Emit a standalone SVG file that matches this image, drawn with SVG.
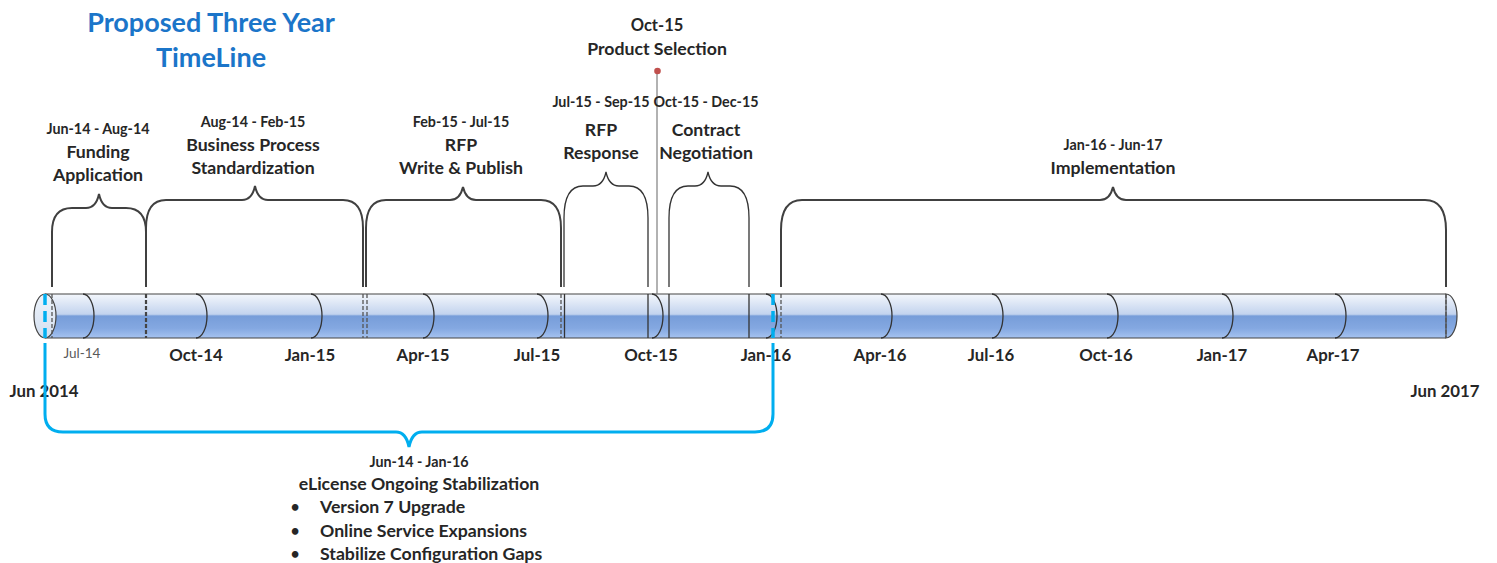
<svg xmlns="http://www.w3.org/2000/svg" width="1497" height="563" viewBox="0 0 1497 563">
<defs>
<linearGradient id="body" x1="0" y1="0" x2="0" y2="1">
<stop offset="0" stop-color="#f4f7fc"/>
<stop offset="0.46" stop-color="#c2d3ee"/>
<stop offset="0.5" stop-color="#779dd9"/>
<stop offset="0.78" stop-color="#84a8e1"/>
<stop offset="1" stop-color="#a6c3f0"/>
</linearGradient>
<linearGradient id="cap" x1="0" y1="0" x2="0" y2="1">
<stop offset="0" stop-color="#eef3fa"/>
<stop offset="1" stop-color="#d3dff0"/>
</linearGradient>
<style>
text{font-family:Lato,"Liberation Sans",sans-serif;font-weight:bold;fill:#262626;text-anchor:middle}
.title{font-size:27px;fill:#1b75c9}
.lbl{font-size:17.7px}
.dt{font-size:14.3px}
.ax{font-size:16.8px}
.axs{font-size:13.5px;font-weight:normal;fill:#595959}
.bl{text-anchor:start;font-size:17.7px}
.bul{font-size:15px}
.brace{fill:none;stroke:#404040;stroke-width:2}
.brace.thin{stroke-width:1.3;stroke:#333}
.arc{fill:none;stroke:#333;stroke-width:1.3}
.dash{stroke:#555;stroke-width:1.3;stroke-dasharray:4 2}
.solid{stroke:#333;stroke-width:1.3}
.blue{fill:none;stroke:#00aeef;stroke-width:3}
.bluedash{stroke:#00aeef;stroke-width:3.5;stroke-dasharray:11 6}
</style>
</defs>

<g id="title">
<text class="title" x="211" y="32">Proposed Three Year</text>
<text class="title" x="211" y="67">TimeLine</text>
</g>

<g id="timeline-bar">
<rect x="45" y="294" width="1401" height="44" fill="url(#body)"/>
<line x1="45" y1="294" x2="1446" y2="294" stroke="#444" stroke-width="1.2"/>
<line x1="45" y1="338" x2="1446" y2="338" stroke="#444" stroke-width="1.2"/>
<path d="M1446,294 A11,22 0 0 1 1446,338 Z" fill="url(#body)" stroke="#444" stroke-width="1.2"/>
<ellipse cx="45" cy="316" rx="11" ry="22" fill="url(#cap)" stroke="#444" stroke-width="1.2"/>
<path class="arc" d="M83,294 A11,22 0 0 1 83,338"/>
<path class="arc" d="M196,294 A11,22 0 0 1 196,338"/>
<path class="arc" d="M311,294 A11,22 0 0 1 311,338"/>
<path class="arc" d="M423,294 A11,22 0 0 1 423,338"/>
<path class="arc" d="M537,294 A11,22 0 0 1 537,338"/>
<path class="arc" d="M652,294 A11,22 0 0 1 652,338"/>
<path class="arc" d="M766,294 A11,22 0 0 1 766,338"/>
<path class="arc" d="M881,294 A11,22 0 0 1 881,338"/>
<path class="arc" d="M992,294 A11,22 0 0 1 992,338"/>
<path class="arc" d="M1107,294 A11,22 0 0 1 1107,338"/>
<path class="arc" d="M1222,294 A11,22 0 0 1 1222,338"/>
<path class="arc" d="M1335,294 A11,22 0 0 1 1335,338"/>
<line class="dash" x1="52" y1="294" x2="52" y2="338"/>
<line class="dash" x1="146" y1="294" x2="146" y2="338" style="stroke-width:2.2;stroke:#444"/>
<line class="dash" x1="363" y1="294" x2="363" y2="338"/>
<line class="dash" x1="367" y1="294" x2="367" y2="338"/>
<line class="dash" x1="561" y1="294" x2="561" y2="338"/>
<line class="solid" x1="564.5" y1="294" x2="564.5" y2="338"/>
<line class="solid" x1="648" y1="294" x2="648" y2="338"/>
<line class="solid" x1="669" y1="294" x2="669" y2="338"/>
<line class="solid" x1="749" y1="294" x2="749" y2="338"/>
<line class="dash" x1="781" y1="294" x2="781" y2="338"/>
<line class="dash" x1="1446" y1="294" x2="1446" y2="338"/>
<line class="bluedash" x1="45" y1="294" x2="45" y2="338"/>
<line class="bluedash" x1="773" y1="294" x2="773" y2="338"/>
</g>

<g id="axis-labels">
<text class="axs" x="82" y="358">Jul-14</text>
<text class="ax" x="196" y="361">Oct-14</text>
<text class="ax" x="310" y="361">Jan-15</text>
<text class="ax" x="423" y="361">Apr-15</text>
<text class="ax" x="537" y="361">Jul-15</text>
<text class="ax" x="651" y="361">Oct-15</text>
<text class="ax" x="766" y="361">Jan-16</text>
<text class="ax" x="880" y="361">Apr-16</text>
<text class="ax" x="991" y="361">Jul-16</text>
<text class="ax" x="1106" y="361">Oct-16</text>
<text class="ax" x="1222" y="361">Jan-17</text>
<text class="ax" x="1333" y="361">Apr-17</text>
<text class="ax" x="44" y="397">Jun 2014</text>
<text class="ax" x="1445" y="397">Jun 2017</text>
</g>

<g id="connectors">
<path class="brace" d="M52,287 V232 Q52,208 72,208 H86 Q96,208 99,194 Q102,208 112,208 H126 Q146,208 146,232 V287"/>
<path class="brace" d="M146,287 V228 Q146,200 166,200 H242 Q252,200 255,186 Q258,200 268,200 H343 Q363,200 363,228 V287"/>
<path class="brace" d="M366,287 V228 Q366,200 386,200 H450 Q460,200 463,187 Q466,200 476,200 H541 Q561,200 561,228 V287"/>
<path class="brace thin" d="M564,287 V218 Q564,186 583,186 H593 Q603,186 606,172 Q609,186 619,186 H629 Q648,186 648,218 V287"/>
<path class="brace thin" d="M669,287 V218 Q669,186 688,186 H695 Q705,186 708,172 Q711,186 721,186 H730 Q749,186 749,218 V287"/>
<path class="brace" d="M781,287 V230 Q781,200 802,200 H1100 Q1110,200 1113,187 Q1116,200 1126,200 H1425 Q1446,200 1446,230 V287"/>
<path class="blue" d="M45,343 V414 Q45,432 63,432 H396 Q406,432 409,447 Q412,432 422,432 H755 Q773,432 773,414 V343"/>
<line x1="657" y1="71" x2="657" y2="294" stroke="#7f7f7f" stroke-width="1.2"/>
</g>

<g id="node-funding">
<text class="dt" x="98" y="134">Jun-14 - Aug-14</text>
<text class="lbl" x="98" y="158">Funding</text>
<text class="lbl" x="98" y="181">Application</text>
</g>
<g id="node-business">
<text class="dt" x="253" y="127">Aug-14 - Feb-15</text>
<text class="lbl" x="253" y="151">Business Process</text>
<text class="lbl" x="253" y="174">Standardization</text>
</g>
<g id="node-rfp-write">
<text class="dt" x="461" y="127">Feb-15 - Jul-15</text>
<text class="lbl" x="461" y="151">RFP</text>
<text class="lbl" x="461" y="174">Write &amp; Publish</text>
</g>
<g id="node-rfp-response">
<text class="dt" x="601" y="107">Jul-15 - Sep-15</text>
<text class="lbl" x="601" y="136">RFP</text>
<text class="lbl" x="601" y="159">Response</text>
</g>
<g id="node-product-selection">
<text class="dt" x="657" y="31" style="font-size:16.5px">Oct-15</text>
<text class="lbl" x="657" y="55">Product Selection</text>
<circle cx="657.5" cy="71" r="3.3" fill="#c0504d"/>
</g>
<g id="node-contract">
<text class="dt" x="706" y="107">Oct-15 - Dec-15</text>
<text class="lbl" x="706" y="136">Contract</text>
<text class="lbl" x="706" y="159">Negotiation</text>
</g>
<g id="node-implementation">
<text class="dt" x="1113" y="150">Jan-16 - Jun-17</text>
<text class="lbl" x="1113" y="174">Implementation</text>
</g>
<g id="node-elicense">
<text class="dt" x="419" y="467">Jun-14 - Jan-16</text>
<text class="lbl" x="419" y="490">eLicense Ongoing Stabilization</text>
<text class="bul" x="295" y="512">•</text>
<text class="bl" x="320" y="513">Version 7 Upgrade</text>
<text class="bul" x="295" y="536">•</text>
<text class="bl" x="320" y="537">Online Service Expansions</text>
<text class="bul" x="295" y="559">•</text>
<text class="bl" x="320" y="560">Stabilize Configuration Gaps</text>
</g>
</svg>
